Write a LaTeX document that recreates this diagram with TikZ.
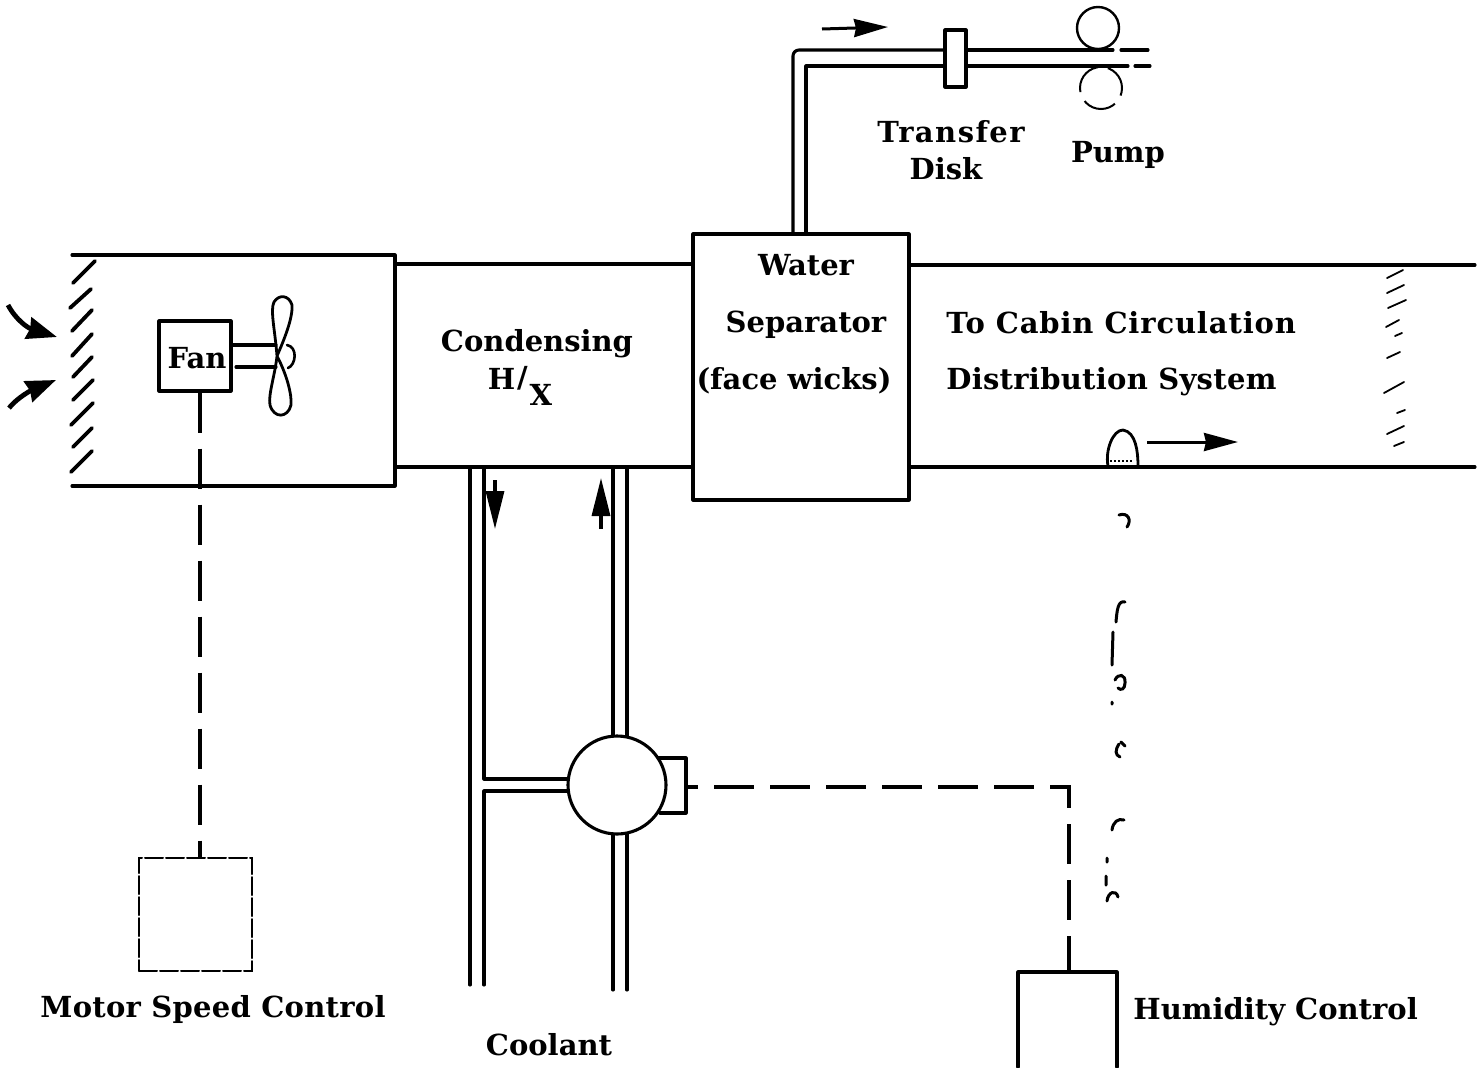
\documentclass[tikz,border=0pt]{standalone}
\usepackage{fontspec}
\setmainfont{DejaVu Serif}
\usetikzlibrary{arrows.meta}
\tikzset{
  line/.style={line width=1.55pt,line cap=round,line join=round},
  thin line/.style={line width=1pt,line cap=round},
  ctrl/.style={line width=1.8pt,dash pattern=on 20pt off 8pt},
  lbl/.style={inner sep=0pt,anchor=base,font=\fontsize{14.5}{16}\selectfont\bfseries},
  lbll/.style={lbl,anchor=base west},
  flow/.style={line width=1.5pt,-{Stealth[length=17pt,width=9pt,inset=1pt]}},
  tick/.style={line width=1.6pt,-{Stealth[length=19pt,width=9pt,inset=0pt]}},
  inlet/.style={line width=2.4pt,-{Stealth[length=15pt,width=11pt,inset=1pt]}},
  lou/.style={line width=1.9pt,line cap=round},
  faintlou/.style={line width=0.9pt,line cap=round},
  frag/.style={line width=1.5pt,line cap=round}
}
\begin{document}
\begin{tikzpicture}[x=0.5pt,y=-0.5pt]
\useasboundingbox (0,0) rectangle (1479,1067);
% named points
\coordinate (ductTL) at (72,255); \coordinate (ductTR) at (395,255);
\coordinate (ductBR) at (395,486); \coordinate (ductBL) at (72,486);
\coordinate (hxTL) at (395,264); \coordinate (hxBL) at (395,467);
\coordinate (sepTL) at (693,264); \coordinate (sepBL) at (693,467);
\coordinate (outTL) at (909,265); \coordinate (outBL) at (909,467);
\coordinate (outTR) at (1475,265); \coordinate (outBR) at (1475,467);
% boxes
\node[draw,line,minimum width=108pt,minimum height=133pt,inner sep=0pt] (sep) at (801,367) {};
\node[draw,line,minimum width=36pt,minimum height=35pt,inner sep=0pt] (fan) at (195,356) {};
\node[draw,thin line,dash pattern=on 9pt off 1.5pt,minimum width=56.5pt,minimum height=56.5pt,inner sep=0pt] (msc) at (195.5,914.5) {};
\node[draw,line,minimum width=10.5pt,minimum height=28.5pt,inner sep=0pt] (disk) at (955.5,58.5) {};
% duct
\draw[line] (ductBL) -- (ductBR) -- (ductTR) -- (ductTL);
\draw[line] (hxTL) -- (sepTL) (hxBL) -- (sepBL);
\draw[line] (outTL) -- (outTR) (outBL) -- (outBR);
% inlet louvers
\foreach \a/\b/\c/\d in {73/283/95/261,70/308/91/289,72/331/92/310,72/356/92/334,73/377/92/357,73/400/93/380,71/425/93/403,73/447/92/428,71/472/92/451}
  \draw[lou] (\a,\b) -- (\c,\d);
% outlet louvers
\foreach \a/\b/\c/\d in {1387/278/1403/270,1387/293/1404/285,1388/308/1406/300,1386/327/1399/320,1395/336/1402/333,1387/358/1400/352,1384/393/1404/382,1397/413/1405/410,1387/434/1404/426,1394/446/1404/442}
  \draw[faintlou] (\a,\b) -- (\c,\d);
% inlet arrows
\coordinate (in1s) at (8,305); \coordinate (in1e) at (57,337);
\coordinate (in2s) at (9,408); \coordinate (in2e) at (56,380);
\draw[inlet] (in1s) .. controls (16,320) and (28,328) .. (in1e);
\draw[inlet] (in2s) .. controls (18,397) and (32,390) .. (in2e);
% fan
\coordinate (hub) at (277,356);
\coordinate (shaftA) at (276,345); \coordinate (shaftB) at (276,367);
\coordinate (shaftC) at (236,367);
\draw[line] (fan.east |- shaftA) -- (shaftA);
\draw[line] (shaftC) -- (shaftB);
\draw[line,line width=1.4pt] (hub) .. controls (275,330) and (270,310) .. (274,302) .. controls (279,294) and (289,295) .. (292,305) .. controls (293,318) and (284,340) .. (hub)
  .. controls (287,375) and (292,395) .. (291,405) .. controls (288,418) and (274,419) .. (270,405) .. controls (268,395) and (275,375) .. (hub);
\draw[line,line width=1.3pt] (287,345) .. controls (298,347) and (296,365) .. (288,368);
\node[lbl] (fanlabel) at (197,368) {Fan};
% control lines
\draw[ctrl] (fan.south -| 200,0) -- (msc.north -| 200,0);
\coordinate (humBL) at (1018,1067); \coordinate (humTL) at (1018,972);
\coordinate (humTR) at (1117,972); \coordinate (humBR) at (1117,1067);
\draw[line] (humBL) -- (humTL) -- (humTR) -- (humBR);
% coolant
\coordinate (pipeLaT) at (470,467); \coordinate (pipeLaB) at (470,985);
\coordinate (pipeLbT) at (484,467); \coordinate (pipeLbB) at (484,985);
\coordinate (pipeRaT) at (613,467); \coordinate (pipeRbT) at (627,467);
\node[draw,line,circle,minimum size=49pt,inner sep=0pt] (valve) at (617,785) {};
\draw[line] (pipeLaT) -- (pipeLaB);
\draw[line] (pipeLbT) -- (484,779) -- (valve.west |- 0,779);
\draw[line] (pipeLbB) -- (484,791) -- (valve.west |- 0,791);
\draw[line] (pipeRaT) -- (613,736) (pipeRbT) -- (627,736);
\draw[line] (613,834) -- (613,990) (627,834) -- (627,990);
\draw[line] (658,758) -- (686,758) -- (686,813) -- (660,813);
\coordinate (actR) at (688,787); \coordinate (ctrlK) at (1069,787);
\draw[ctrl,dash phase=15pt] (actR) -- (ctrlK) -- (humTL -| ctrlK);
\coordinate (dnS) at (495,480); \coordinate (dnE) at (495,529);
\coordinate (upS) at (601,529); \coordinate (upE) at (601,478);
\draw[tick] (dnS) -- (dnE);
\draw[tick] (upS) -- (upE);
% water line
\coordinate (wA) at (793,234); \coordinate (wB) at (806,234);
\draw[line,rounded corners=3pt] (wA) -- (793,50) -- (disk.west |- 0,50);
\draw[line] (wB) -- (806,66) -- (disk.west |- 0,66);
\draw[line] (disk.east |- 0,50) -- (1113,50) (1121,50) -- (1148,50);
\draw[line] (disk.east |- 0,66) -- (1128,66) (1135,66) -- (1150,66);
\coordinate (fS) at (822,29); \coordinate (fE) at (888,27);
\draw[flow] (fS) -- (fE);
% pump
\node[draw,line width=1.2pt,circle,minimum size=21pt,inner sep=0pt] (pumpA) at (1098,28) {};
\node[draw,line width=1pt,circle,dash pattern=on 17pt off 5pt,dash phase=4pt,minimum size=21pt,inner sep=0pt] (pumpB) at (1101,88) {};
% bubble and air arrow
\draw[line width=1.4pt] (1108,466) .. controls (1105,450) and (1113,430) .. (1123,430) .. controls (1136,432) and (1138,452) .. (1138,466);
\draw[line width=1pt,densely dotted] (1110,461) -- (1134,461);
\coordinate (aS) at (1147,442); \coordinate (aE) at (1238,442);
\draw[flow] (aS) -- (aE);
% broken sensor line
\draw[frag]
 (1119,515) .. controls (1128,512) and (1132,520) .. (1127,527)
 (1116,622) .. controls (1117,610) and (1118,600) .. (1125,602)
 (1113,632) -- (1112,665)
 (1115,680) .. controls (1118,673) and (1126,674) .. (1125,683) .. controls (1125,689) and (1121,691) .. (1118,688)
 (1119,744) .. controls (1115,750) and (1115,755) .. (1120,757)
 (1121,742) -- (1125,746)
 (1112,830) .. controls (1113,822) and (1118,818) .. (1124,820)
 (1107,901) .. controls (1108,892) and (1116,889) .. (1118,897)
 (1107,858) -- (1107,862) (1106,876) -- (1106,885) (1112,702) -- (1112,704);
% labels
\node[lbl] (tTransfer) at (951,142) {\addfontfeature{LetterSpace=5}Transfer};
\node[lbl] (tDisk) at (946,179) {Disk};
\node[lbl] (tPump) at (1118,162) {Pump};
\node[lbl] (tWater) at (806,275) {Water};
\node[lbl] (tSep) at (806,332) {Separator};
\node[lbl] (tWicks) at (794,389) {(face wicks)};
\node[lbl] (tCond) at (537,351) {Condensing};
\node[lbl] (tHX) at (520,389) {H\kern1pt\raisebox{1pt}{/}\kern1pt\raisebox{-8pt}{X}};
\node[lbll] (tCabin) at (946,333) {\addfontfeature{LetterSpace=3}To Cabin Circulation};
\node[lbll] (tDist) at (946,389) {\addfontfeature{LetterSpace=1}Distribution System};
\node[lbll] (tMotor) at (40,1017) {\addfontfeature{LetterSpace=1}Motor Speed Control};
\node[lbl] (tCool) at (549,1055) {Coolant};
\node[lbll] (tHum) at (1133,1019) {Humidity Control};
\end{tikzpicture}
\end{document}
